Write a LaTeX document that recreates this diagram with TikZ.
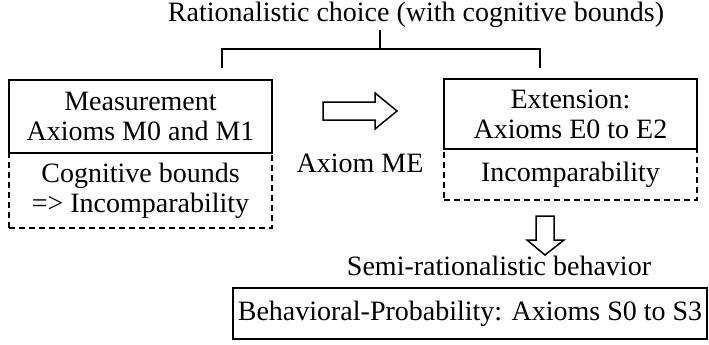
\documentclass[tikz,border=0pt]{standalone}
\usepackage{fontspec}
\setmainfont{Liberation Serif}
\begin{document}
\begin{tikzpicture}[x=1pt,y=-1pt,line width=1.8pt,
  every node/.style={font=\fontsize{28}{30}\selectfont,inner sep=0pt},
  solidbox/.style={draw,align=center},
  dashbox/.style={draw,dash pattern=on 6pt off 4pt,align=center},
  blockarrow/.style={draw,line width=1.5pt,line join=miter}]
  \useasboundingbox (0,0) rectangle (709,345);
  \node (title) at (416,15) {Rationalistic choice (with cognitive bounds)};
  \coordinate (top) at (380,30);
  \coordinate (mid) at (380,49);
  \coordinate (legl) at (222,68);
  \coordinate (legr) at (540,68);
  \draw (top) -- (mid);
  \draw (legl) |- (mid) -| (legr);
  \node[dashbox,minimum width=263pt,minimum height=75pt] (cogn) at (140.5,190.5) {Cognitive bounds\\=> Incomparability};
  \node[solidbox,minimum width=263pt,minimum height=73pt] (meas) at (140.5,116.5) {Measurement\\Axioms M0 and M1};
  \node[dashbox,minimum width=253pt,minimum height=51pt] (incomp) at (570.5,174.5) {Incomparability};
  \node[solidbox,minimum width=253pt,minimum height=70pt] (ext) at (570.5,114) {Extension:\\Axioms E0 to E2};
  \node (me) at (360,163) {Axiom ME};
  \draw[blockarrow] (323,102) -- (375,102) -- (375,93) -- (397,111) -- (375,129) -- (375,120) -- (323,120) -- cycle;
  \draw[blockarrow] (536,216) -- (554,216) -- (554,240) -- (564,240) -- (545,255) -- (527,240) -- (536,240) -- cycle;
  \node (semi) at (499,266) {Semi-rationalistic behavior};
  \node[solidbox,line width=2.8pt,minimum width=474pt,minimum height=51pt] (behav) at (470,313.5) {Behavioral-Probability: Axioms S0 to S3};
\end{tikzpicture}
\end{document}
